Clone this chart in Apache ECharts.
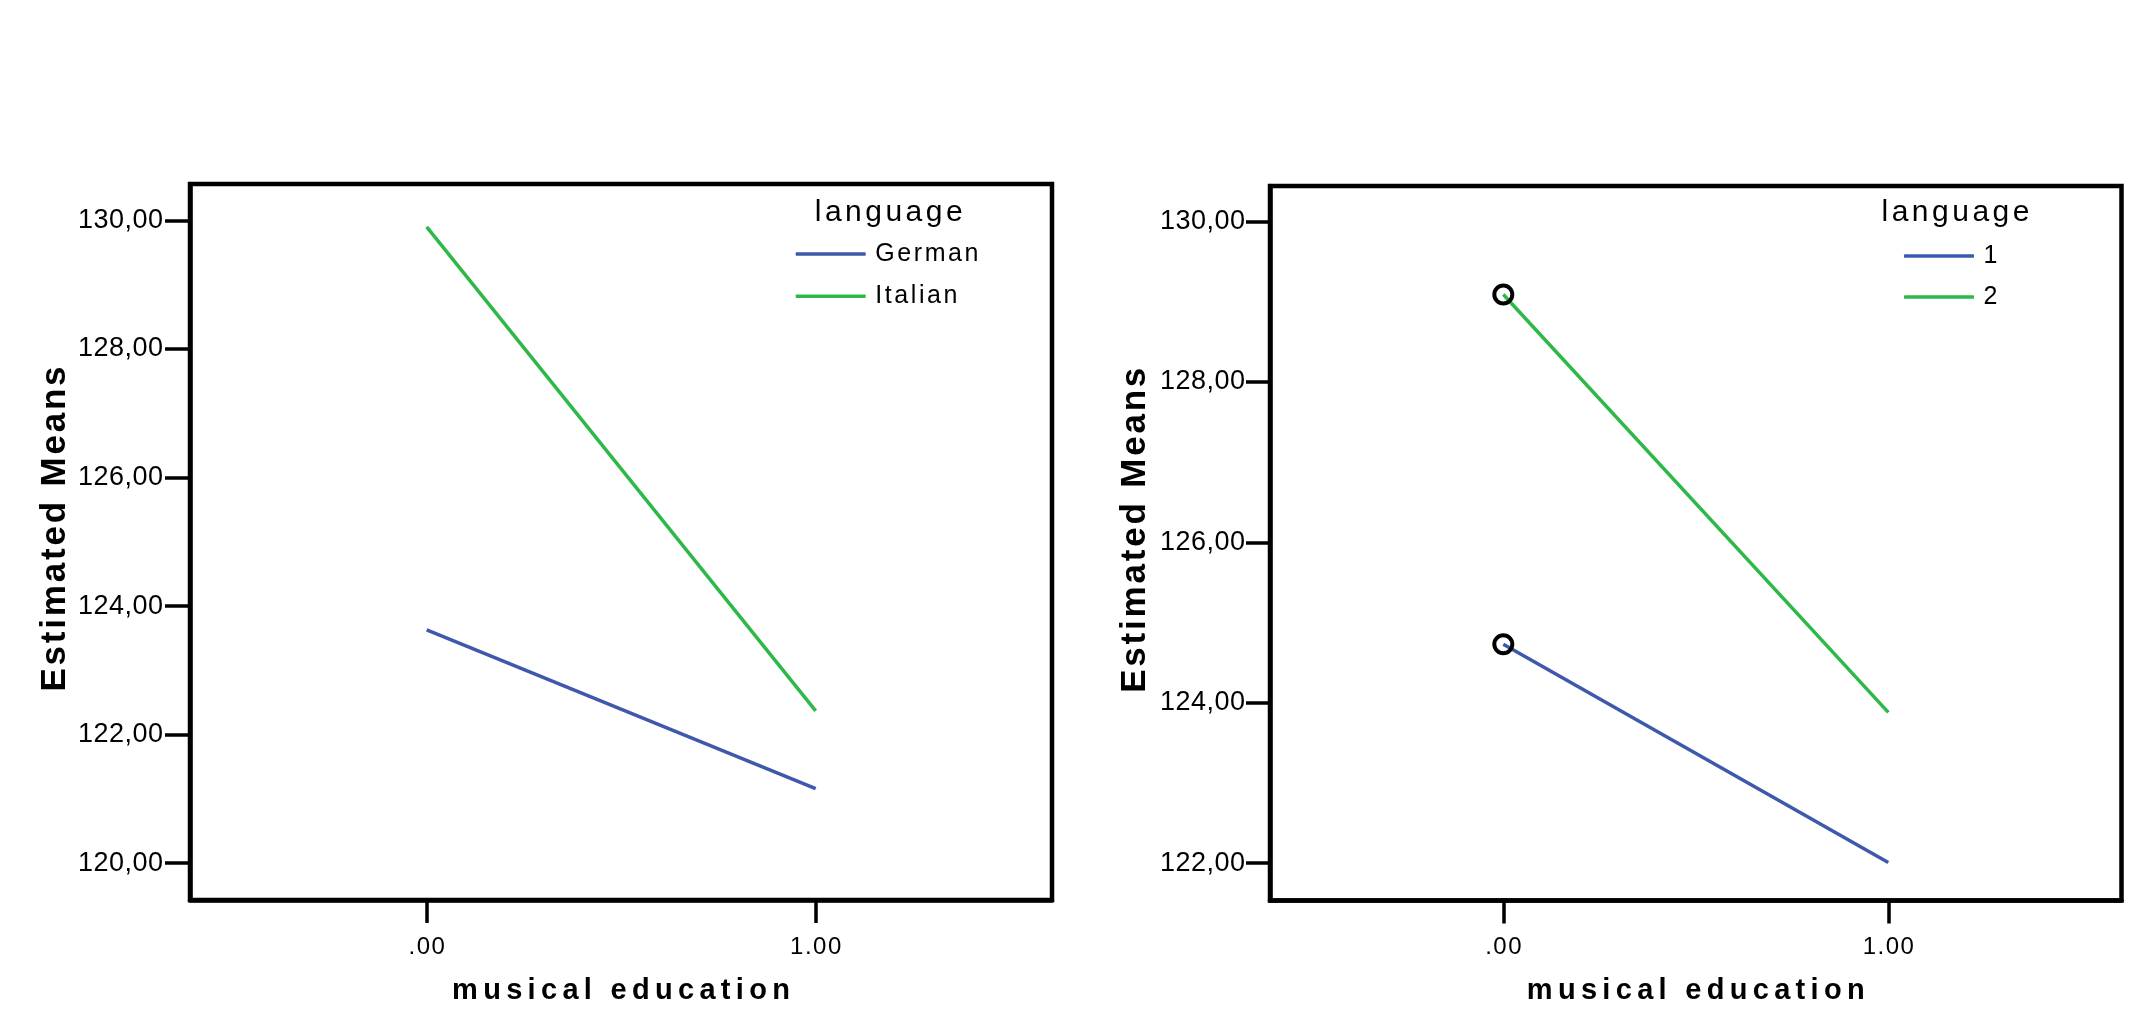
<!DOCTYPE html>
<html>
<head>
<meta charset="utf-8">
<script src="https://cdn.jsdelivr.net/npm/echarts@6/dist/echarts.min.js"></script>
<style>
html,body{margin:0;padding:0;background:#fff;}
#chart{width:2135px;height:1019px;}
</style>
</head>
<body>
<div id="chart"></div>
<script>
// ---- data ----
const xValues = [0, 1];
const xTickLabels = ['.00', '1.00'];
const leftYTicks = [120, 122, 124, 126, 128, 130];
const rightYTicks = [122, 124, 126, 128, 130];
const leftNames = ['German', 'Italian'];
const leftGerman = [123.63, 121.16];
const leftItalian = [129.90, 122.37];
const rightNames = ['1', '2'];
const right1 = [124.73, 122.01];
const right2 = [129.09, 123.88];
const legendTitle = 'language';
const xTitle = 'musical education';
const yTitle = 'Estimated Means';

const BLUE = '#3e58ac';
const GREEN = '#2eb848';
const FONT = "'Liberation Sans', Arial, sans-serif";

// letter-spaced text via rich tokens
function sp(str, key) {
  const chars = Array.from(str);
  if (chars.length === 1) return '{' + key + 'S|' + chars[0] + '}';
  return chars.map((c, i) => {
    const k = i === 0 ? key + 'F' : (i === chars.length - 1 ? key + 'L' : key);
    return '{' + k + '|' + c + '}';
  }).join('');
}
function makeRich(key, base, ls, lead) {
  lead = lead || 0;
  const r = {};
  r[key + 'F'] = Object.assign({}, base, {padding: [0, ls, 0, lead]});
  r[key] = Object.assign({}, base, {padding: [0, ls, 0, 0]});
  r[key + 'L'] = Object.assign({}, base, {padding: [0, 0, 0, 0]});
  r[key + 'S'] = Object.assign({}, base, {padding: [0, 0, 0, lead]});
  return r;
}

const yLabBase = {fontSize: 27, fontFamily: FONT, color: '#000'};
const xLabBase = {fontSize: 24, fontFamily: FONT, color: '#000'};
const xNameBase = {fontSize: 29, fontFamily: FONT, fontWeight: 'bold', color: '#000'};
const yNameBase = {fontSize: 35, fontFamily: FONT, fontWeight: 'bold', color: '#000'};
const legBase = {fontSize: 25, fontFamily: FONT, color: '#000', lineHeight: 25};
const titleBase = {fontSize: 30, fontFamily: FONT, color: '#000'};

const panels = [
  {
    box: {left: 190, top: 184, width: 862, height: 716},
    xRange: [-0.6085, 1.6075],
    yRange: [119.427, 130.568],
    yTicks: leftYTicks,
    yTickLen: 25, yLabMargin: 27,
    legend: {left: 795.7, top: 241.5, gap: 17.2},
    title: {x: 888.7, top: 198},
    names: leftNames,
    series: [leftGerman, leftItalian],
    markers: false
  },
  {
    box: {left: 1270, top: 186, width: 851.5, height: 714.5},
    xRange: [-0.606, 1.6057],
    yRange: [121.535, 130.443],
    yTicks: rightYTicks,
    yTickLen: 24, yLabMargin: 25,
    legend: {left: 1904, top: 243.5, gap: 16},
    title: {x: 1955.5, top: 198},
    names: rightNames,
    series: [right1, right2],
    markers: true
  }
];

const grid = [], xAxis = [], yAxis = [], series = [], legend = [], title = [];

panels.forEach((p, i) => {
  const g = grid.length;
  grid.push(Object.assign({show: true, borderColor: '#000', borderWidth: 4.5, backgroundColor: 'transparent', containLabel: false, outerBoundsMode: 'none'}, p.box));

  const xi = xAxis.length;
  xAxis.push({
    type: 'value', gridIndex: g, min: p.xRange[0], max: p.xRange[1],
    splitLine: {show: false},
    axisLine: {show: true, onZero: false, lineStyle: {color: '#000', width: 4.5}},
    axisTick: {show: true, length: 23, inside: false, customValues: xValues, lineStyle: {color: '#000', width: 3.5}},
    axisLabel: {
      margin: 35, color: '#000', fontSize: 24, fontFamily: FONT,
      customValues: xValues,
      formatter: v => sp(xTickLabels[xValues.indexOf(Math.round(v))] || '', 'x'),
      rich: makeRich('x', xLabBase, 1.5)
    },
    name: sp(xTitle, 'n'),
    nameLocation: 'middle',
    nameGap: 76,
    nameMoveOverlap: false,
    nameTextStyle: {fontSize: 29, fontWeight: 'bold', fontFamily: FONT, color: '#000', rich: makeRich('n', xNameBase, 5.3)}
  });

  const yi = yAxis.length;
  yAxis.push({
    type: 'value', gridIndex: g,
    min: p.yRange[0], max: p.yRange[1],
    splitLine: {show: false},
    axisLine: {show: true, onZero: false, lineStyle: {color: '#000', width: 4.5}},
    axisTick: {show: true, length: p.yTickLen, inside: false, customValues: p.yTicks, lineStyle: {color: '#000', width: 3.5}},
    axisLabel: {
      margin: p.yLabMargin, color: '#000', fontSize: 27, fontFamily: FONT,
      customValues: p.yTicks,
      formatter: v => sp(v.toFixed(2).replace('.', ','), 'y'),
      rich: makeRich('y', yLabBase, 0.5)
    },
    name: sp(yTitle, 'm'),
    nameLocation: 'middle',
    nameGap: 117,
    nameMoveOverlap: false,
    nameTextStyle: {fontSize: 35, fontWeight: 'bold', fontFamily: FONT, color: '#000', rich: makeRich('m', yNameBase, 2.8, 26)}
  });

  const colors = [BLUE, GREEN];
  p.series.forEach((vals, k) => {
    series.push({
      type: 'line',
      name: p.names[k],
      xAxisIndex: xi, yAxisIndex: yi,
      data: vals.map((v, j) => ({
        value: [xValues[j], v],
        symbol: (p.markers && j === 0) ? 'circle' : 'none'
      })),
      symbolSize: 18,
      showSymbol: true,
      itemStyle: {color: 'rgba(0,0,0,0)', borderColor: '#000', borderWidth: 4},
      lineStyle: {color: colors[k], width: 3.5},
      color: colors[k],
      emphasis: {disabled: true},
      z: 3
    });
  });

  legend.push({
    show: true,
    orient: 'vertical',
    left: p.legend.left, top: p.legend.top,
    padding: 0,
    itemGap: p.legend.gap,
    itemWidth: 70, itemHeight: 3.5,
    icon: 'roundRect',
    data: p.names.map((n, k) => ({name: n, icon: 'roundRect', itemStyle: {color: colors[k], borderWidth: 0}})),
    formatter: n => sp(n, 'g'),
    textStyle: {fontSize: 25, fontFamily: FONT, color: '#000', lineHeight: 25, rich: makeRich('g', legBase, 2.6, 4.5)},
    selectedMode: false
  });

  title.push({
    text: sp(legendTitle, 't'),
    left: p.title.x, top: p.title.top,
    padding: 0,
    textAlign: 'center',
    textStyle: {fontSize: 30, fontWeight: 'normal', fontFamily: FONT, color: '#000', rich: makeRich('t', titleBase, 3.5)}
  });
});

const chart = echarts.init(document.getElementById('chart'), null, {renderer: 'canvas'});
chart.setOption({
  animation: false,
  backgroundColor: '#fff',
  title, grid, xAxis, yAxis, series, legend,
  tooltip: {show: false}
});
</script>
</body>
</html>
